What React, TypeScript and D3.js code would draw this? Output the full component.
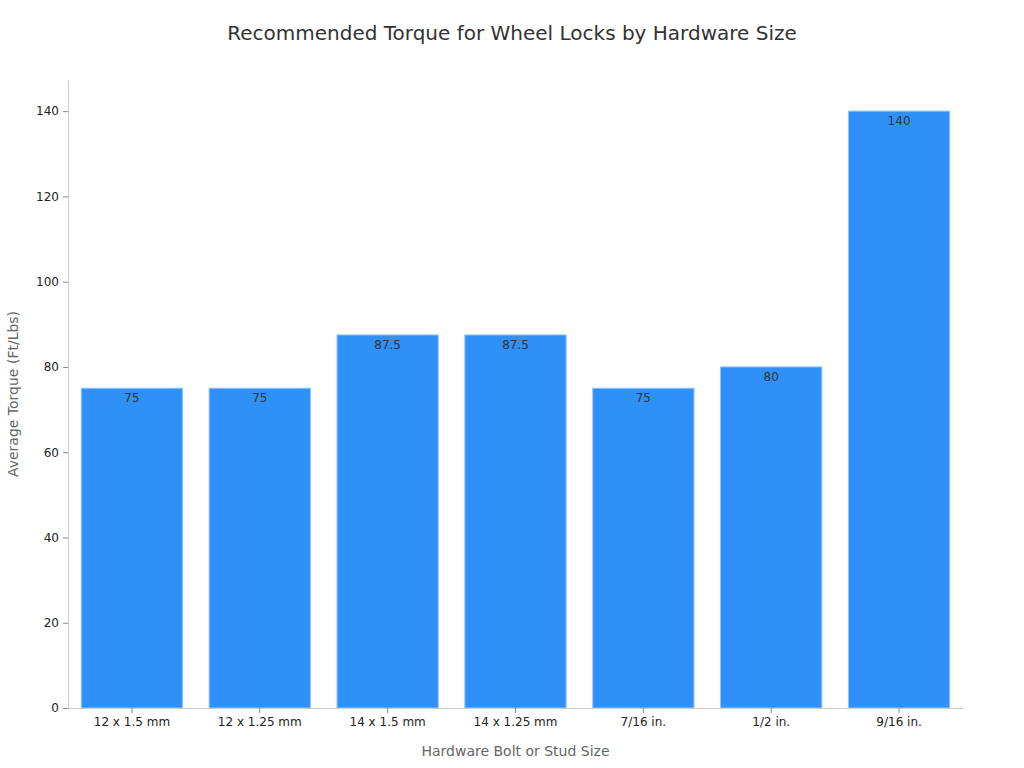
import { useEffect, useRef } from "react";
import * as d3 from "d3";

const categories = [
  "12 x 1.5 mm",
  "12 x 1.25 mm",
  "14 x 1.5 mm",
  "14 x 1.25 mm",
  "7/16 in.",
  "1/2 in.",
  "9/16 in.",
];
const torque = [75, 75, 87.5, 87.5, 75, 80, 140];
const yTicks = [0, 20, 40, 60, 80, 100, 120, 140];

const width = 1024,
  height = 768;
const margin = { top: 80, right: 61, bottom: 60, left: 68 };
const font = "'DejaVu Sans', sans-serif";

const App = () => {
  const svgRef = useRef<SVGSVGElement | null>(null);

  useEffect(() => {
    const svg = d3.select(svgRef.current);
    svg.selectAll("*").remove();

    const innerWidth = width - margin.left - margin.right;
    const innerHeight = height - margin.top - margin.bottom;

    const xScale = d3
      .scaleBand()
      .domain(categories)
      .range([0, innerWidth])
      .paddingInner(0.2)
      .paddingOuter(0.1);

    const yScale = d3
      .scaleLinear()
      .domain([0, 147.3])
      .range([innerHeight, 0]);

    const g = svg
      .append("g")
      .attr("transform", `translate(${margin.left},${margin.top})`);

    const data = categories.map((c, i) => ({ label: c, value: torque[i] }));

    g.selectAll(".bar")
      .data(data)
      .enter()
      .append("rect")
      .attr("class", "bar")
      .attr("x", (d) => xScale(d.label)! + 0.5)
      .attr("y", (d) => yScale(d.value))
      .attr("width", xScale.bandwidth() - 1)
      .attr("height", (d) => innerHeight - yScale(d.value))
      .attr("fill", "#2f91f7")
      .attr("stroke", "#8cc4fb")
      .attr("stroke-width", 1);

    g.selectAll(".bar-label")
      .data(data)
      .enter()
      .append("text")
      .attr("class", "bar-label")
      .attr("x", (d) => xScale(d.label)! + xScale.bandwidth() / 2)
      .attr("y", (d) => yScale(d.value) + 14)
      .attr("text-anchor", "middle")
      .attr("font-family", font)
      .attr("font-size", 12)
      .attr("fill", "#333")
      .text((d) => String(d.value));

    const xAxis = g
      .append("g")
      .attr("transform", `translate(0,${innerHeight})`)
      .call(d3.axisBottom(xScale).tickSize(5).tickPadding(4).tickSizeOuter(0));
    xAxis.select(".domain").attr("stroke", "#ccc");
    xAxis.selectAll(".tick line").attr("stroke", "#888");
    xAxis
      .selectAll(".tick text")
      .attr("font-family", font)
      .attr("font-size", 12)
      .attr("fill", "#222");

    const yAxis = g
      .append("g")
      .call(
        d3.axisLeft(yScale).tickValues(yTicks).tickSize(5).tickPadding(4).tickSizeOuter(0)
      );
    yAxis.select(".domain").attr("stroke", "#ccc");
    yAxis.selectAll(".tick line").attr("stroke", "#888");
    yAxis
      .selectAll(".tick text")
      .attr("font-family", font)
      .attr("font-size", 12)
      .attr("fill", "#222");

    svg
      .append("text")
      .attr("x", width / 2)
      .attr("y", 40)
      .attr("text-anchor", "middle")
      .attr("font-family", font)
      .attr("font-size", 20)
      .attr("fill", "#333")
      .text("Recommended Torque for Wheel Locks by Hardware Size");

    svg
      .append("text")
      .attr("x", margin.left + innerWidth / 2)
      .attr("y", 756)
      .attr("text-anchor", "middle")
      .attr("font-family", font)
      .attr("font-size", 14)
      .attr("fill", "#666")
      .text("Hardware Bolt or Stud Size");

    svg
      .append("text")
      .attr(
        "transform",
        `translate(18,${margin.top + innerHeight / 2}) rotate(-90)`
      )
      .attr("text-anchor", "middle")
      .attr("font-family", font)
      .attr("font-size", 14)
      .attr("fill", "#666")
      .text("Average Torque (Ft/Lbs)");
  }, []);

  return (
    <svg
      ref={svgRef}
      width={width}
      height={height}
      style={{ position: "absolute", left: 0, top: 0 }}
    ></svg>
  );
};

export default App;
